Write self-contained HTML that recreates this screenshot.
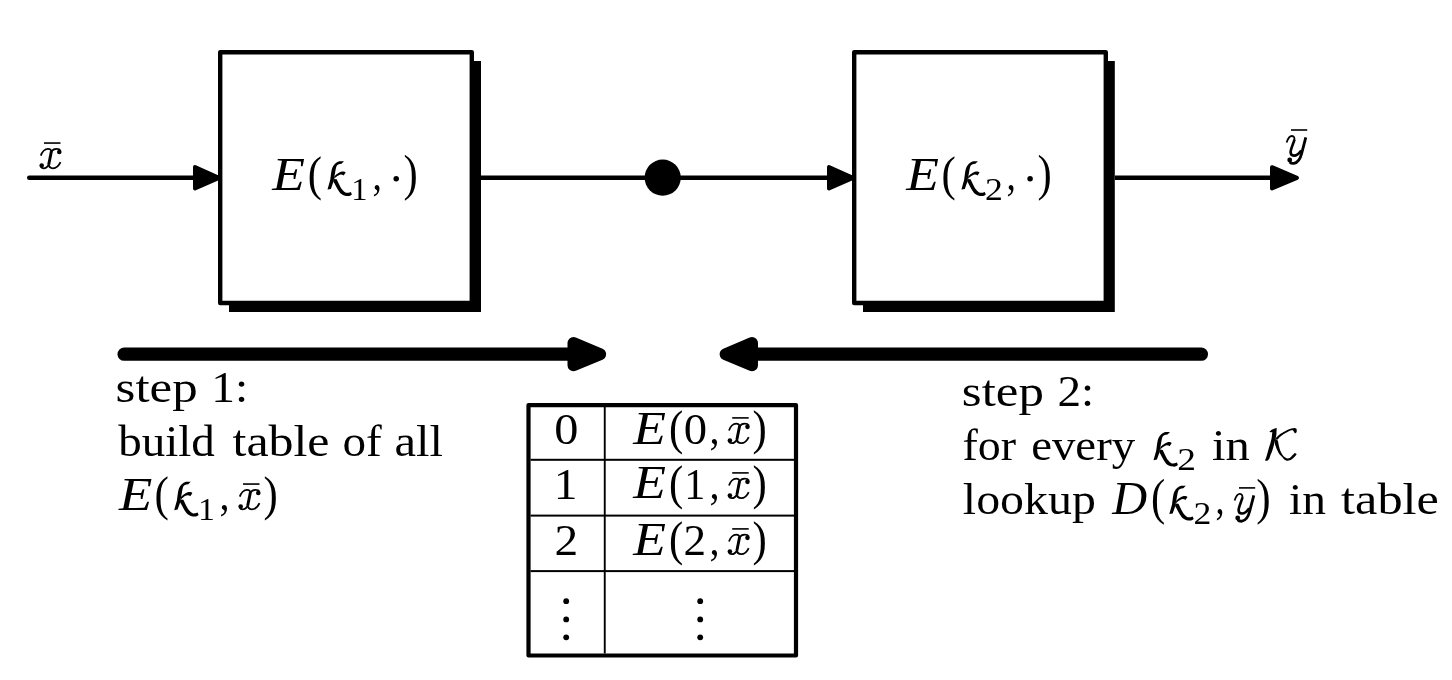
<!DOCTYPE html>
<html><head><meta charset="utf-8"><style>
html,body{margin:0;padding:0;background:#fff;width:1452px;height:680px;overflow:hidden}
svg{display:block;filter:grayscale(1)}
text{font-family:"Liberation Serif", serif;font-kerning:none;fill:#000}
</style></head><body>
<svg width="1452" height="680" viewBox="0 0 1452 680">
<rect width="1452" height="680" fill="#fff"/>
<rect x="220.20" y="52.20" width="251.60" height="250.80" fill="none" stroke="#000" stroke-width="4.4" stroke-linejoin="round"/>
<polygon points="472,61 481,61 481,312 229,312 229,303 472,303"/>
<rect x="854.20" y="52.20" width="251.60" height="250.80" fill="none" stroke="#000" stroke-width="4.4" stroke-linejoin="round"/>
<polygon points="1106,61 1114.8,61 1114.8,311.9 863,311.9 863,303 1106,303"/>
<line x1="29.20" y1="177.80" x2="210.00" y2="177.80" stroke="#000" stroke-width="4.4" stroke-linecap="round"/>
<line x1="481.00" y1="177.80" x2="845.00" y2="177.80" stroke="#000" stroke-width="4.4" stroke-linecap="round"/>
<line x1="1115.00" y1="177.80" x2="1290.00" y2="177.80" stroke="#000" stroke-width="4.4" stroke-linecap="butt"/>
<polygon points="195.00,167.00 195.00,188.40 219.00,177.80" fill="#000" stroke="#000" stroke-width="4" stroke-linejoin="round"/>
<polygon points="829.00,167.00 829.00,188.40 853.00,177.80" fill="#000" stroke="#000" stroke-width="4" stroke-linejoin="round"/>
<polygon points="1272.00,167.20 1272.00,188.40 1297.00,177.80" fill="#000" stroke="#000" stroke-width="4" stroke-linejoin="round"/>
<circle cx="662.70" cy="177.60" r="18.10"/>
<line x1="124.15" y1="354.20" x2="575.00" y2="354.20" stroke="#000" stroke-width="13.3" stroke-linecap="round"/>
<polygon points="573.50,343.00 573.50,365.30 600.20,354.20" fill="#000" stroke="#000" stroke-width="12" stroke-linejoin="round"/>
<line x1="752.00" y1="354.20" x2="1201.35" y2="354.20" stroke="#000" stroke-width="13.3" stroke-linecap="round"/>
<polygon points="752.00,343.00 752.00,365.30 725.60,354.20" fill="#000" stroke="#000" stroke-width="12" stroke-linejoin="round"/>
<rect x="528.5" y="405.1" width="267.5" height="250.4" fill="none" stroke="#000" stroke-width="4.2" stroke-linejoin="round"/>
<rect x="603.80" y="407.00" width="1.90" height="246.50"/>
<rect x="530.50" y="458.80" width="264.10" height="2.00"/>
<rect x="530.50" y="514.60" width="264.10" height="2.00"/>
<rect x="530.50" y="570.10" width="264.10" height="2.00"/>
<g transform="translate(36.00 138.00)"><rect x="8" y="4.25" width="16.5" height="1.6"/><g fill="none" stroke="#000"><path d="M4.8,17.6 C6,14 9,10.8 12,10.8 C14,10.8 15.6,12 15.3,14" stroke-width="1.8"/><path d="M15.4,13.2 L12.7,26.6" stroke-width="2.9"/><path d="M12.8,26.4 C11.6,29 9.6,30.3 7.5,30.3 C6.2,30.3 5.2,29.6 4.9,28.6" stroke-width="1.8"/><path d="M15.2,13.8 C16.5,11.6 18.5,10.8 20.5,10.8 C22.5,10.8 24,11.6 24.5,12.6" stroke-width="1.8"/><path d="M12.6,26.4 C13,29 14.8,30.3 17,30.3 C20,30.3 23,27.5 24.5,24.2" stroke-width="1.8"/></g><circle cx="5.7" cy="27.6" r="2.3"/><circle cx="23.3" cy="14" r="2.3"/></g>
<g transform="translate(1282.00 124.00)"><rect x="9" y="5.2" width="16.2" height="1.6"/><g fill="none" stroke="#000"><path d="M4.6,18.6 C6,14.2 8,12 9.9,12 C12,12 12.7,13.8 12.4,16" stroke-width="1.8"/><path d="M12.5,15.6 C11.2,20 8.6,25.5 8.6,28 C8.6,30.5 10,31.6 12,31.6 C14.6,31.6 17,29.6 19.2,26.4" stroke-width="2.6"/><path d="M23.8,13.4 L19.6,29.6 C18.6,33.6 16,38.6 12,39.3 C10,39.5 8.6,38.9 7.6,37.9" stroke-width="2.8"/></g><circle cx="7.7" cy="36" r="2.4"/></g>
<text transform="translate(272.23 189.70) scale(1.1909 1.0419)" font-size="45" style="font-style:italic;">E</text>
<text transform="translate(307.72 190.36) scale(0.9518 1.1004)" font-size="45" style="">(</text>
<g transform="translate(326.00 158.00)"><path d="M13.3,3.2 L18,3.2 L15.5,5.7 C13,5.8 11,6.8 10.4,8.4 C9.6,10.8 9,16 7.4,23.8 L4.9,30.9 L1.5,31.6 L4.2,22 C5,16 5.4,12 6.2,10 C7.5,6.5 10,4.3 13.3,3.2 Z"/><path d="M8,21 C9,20 10,19 10.7,18.6 C11.6,18 12.3,17.4 12.9,17.2 C13.6,16.8 14,16.6 14.6,16.6 L16.5,16.8 L17.6,17.6 L19.7,14.4 C19,13.7 18.3,13.4 17.5,13.4 C16.5,13.4 15.8,13.5 15,13.7 C14.2,14 13.5,14.3 12.9,14.7 C12,15.2 11.5,15.6 11,16 C10,16.8 9,17.6 8.5,18 Z"/><path d="M7.4,20.9 L10.7,21.2 C12.5,25 14.5,30 16.8,32.2 C18.5,34 19.8,34.8 20.7,34.8 C22,34.8 23.4,34.5 24.9,33.9 L25.9,36.4 C24.5,37.5 23.4,38 22.3,38 C20.5,38 19.5,38 18.1,37.4 C16,36.5 14.5,35.5 13.6,34.2 C12,32 10.8,30 9.7,27.7 C8.8,26 8,24.5 7.4,23.8 Z"/></g>
<text transform="translate(351.13 199.60) scale(1.0208 1.0000)" font-size="32" style="">1</text>
<text transform="translate(372.57 189.70) scale(0.8356 1.0000)" font-size="45" style="">,</text>
<circle cx="396.20" cy="178.70" r="2.75"/>
<text transform="translate(403.62 190.43) scale(0.9518 1.1029)" font-size="45" style="">)</text>
<text transform="translate(906.13 189.70) scale(1.1909 1.0419)" font-size="45" style="font-style:italic;">E</text>
<text transform="translate(941.62 190.36) scale(0.9518 1.1004)" font-size="45" style="">(</text>
<g transform="translate(959.90 158.00)"><path d="M13.3,3.2 L18,3.2 L15.5,5.7 C13,5.8 11,6.8 10.4,8.4 C9.6,10.8 9,16 7.4,23.8 L4.9,30.9 L1.5,31.6 L4.2,22 C5,16 5.4,12 6.2,10 C7.5,6.5 10,4.3 13.3,3.2 Z"/><path d="M8,21 C9,20 10,19 10.7,18.6 C11.6,18 12.3,17.4 12.9,17.2 C13.6,16.8 14,16.6 14.6,16.6 L16.5,16.8 L17.6,17.6 L19.7,14.4 C19,13.7 18.3,13.4 17.5,13.4 C16.5,13.4 15.8,13.5 15,13.7 C14.2,14 13.5,14.3 12.9,14.7 C12,15.2 11.5,15.6 11,16 C10,16.8 9,17.6 8.5,18 Z"/><path d="M7.4,20.9 L10.7,21.2 C12.5,25 14.5,30 16.8,32.2 C18.5,34 19.8,34.8 20.7,34.8 C22,34.8 23.4,34.5 24.9,33.9 L25.9,36.4 C24.5,37.5 23.4,38 22.3,38 C20.5,38 19.5,38 18.1,37.4 C16,36.5 14.5,35.5 13.6,34.2 C12,32 10.8,30 9.7,27.7 C8.8,26 8,24.5 7.4,23.8 Z"/></g>
<text transform="translate(984.93 199.60) scale(1.1147 1.0000)" font-size="32" style="">2</text>
<text transform="translate(1006.47 189.70) scale(0.8356 1.0000)" font-size="45" style="">,</text>
<circle cx="1030.10" cy="178.70" r="2.75"/>
<text transform="translate(1037.52 190.43) scale(0.9518 1.1029)" font-size="45" style="">)</text>
<text transform="translate(115.61 401.70) scale(1.1323 1.0000)" font-size="45" style="">step</text>
<text transform="translate(211.23 401.70) scale(1.0547 1.0000)" font-size="45" style="">1:</text>
<text transform="translate(118.20 456.20) scale(1.0440 1.0000)" font-size="45" style="">build</text>
<text transform="translate(232.51 456.20) scale(1.1094 1.0000)" font-size="45" style="">table</text>
<text transform="translate(342.40 456.20) scale(1.0483 1.0000)" font-size="45" style="">of</text>
<text transform="translate(394.49 456.20) scale(1.0778 1.0000)" font-size="45" style="">all</text>
<text transform="translate(119.04 509.70) scale(1.2129 1.0351)" font-size="45" style="font-style:italic;">E</text>
<text transform="translate(154.60 510.26) scale(0.9604 1.1004)" font-size="45" style="">(</text>
<g transform="translate(172.70 478.60)"><path d="M13.3,3.2 L18,3.2 L15.5,5.7 C13,5.8 11,6.8 10.4,8.4 C9.6,10.8 9,16 7.4,23.8 L4.9,30.9 L1.5,31.6 L4.2,22 C5,16 5.4,12 6.2,10 C7.5,6.5 10,4.3 13.3,3.2 Z"/><path d="M8,21 C9,20 10,19 10.7,18.6 C11.6,18 12.3,17.4 12.9,17.2 C13.6,16.8 14,16.6 14.6,16.6 L16.5,16.8 L17.6,17.6 L19.7,14.4 C19,13.7 18.3,13.4 17.5,13.4 C16.5,13.4 15.8,13.5 15,13.7 C14.2,14 13.5,14.3 12.9,14.7 C12,15.2 11.5,15.6 11,16 C10,16.8 9,17.6 8.5,18 Z"/><path d="M7.4,20.9 L10.7,21.2 C12.5,25 14.5,30 16.8,32.2 C18.5,34 19.8,34.8 20.7,34.8 C22,34.8 23.4,34.5 24.9,33.9 L25.9,36.4 C24.5,37.5 23.4,38 22.3,38 C20.5,38 19.5,38 18.1,37.4 C16,36.5 14.5,35.5 13.6,34.2 C12,32 10.8,30 9.7,27.7 C8.8,26 8,24.5 7.4,23.8 Z"/></g>
<text transform="translate(198.03 519.50) scale(1.0563 1.0000)" font-size="32" style="">1</text>
<text transform="translate(219.47 509.80) scale(0.8953 1.0000)" font-size="45" style="">,</text>
<g transform="translate(235.00 479.00)"><rect x="8" y="4.25" width="16.5" height="1.6"/><g fill="none" stroke="#000"><path d="M4.8,17.6 C6,14 9,10.8 12,10.8 C14,10.8 15.6,12 15.3,14" stroke-width="1.8"/><path d="M15.4,13.2 L12.7,26.6" stroke-width="2.9"/><path d="M12.8,26.4 C11.6,29 9.6,30.3 7.5,30.3 C6.2,30.3 5.2,29.6 4.9,28.6" stroke-width="1.8"/><path d="M15.2,13.8 C16.5,11.6 18.5,10.8 20.5,10.8 C22.5,10.8 24,11.6 24.5,12.6" stroke-width="1.8"/><path d="M12.6,26.4 C13,29 14.8,30.3 17,30.3 C20,30.3 23,27.5 24.5,24.2" stroke-width="1.8"/></g><circle cx="5.7" cy="27.6" r="2.3"/><circle cx="23.3" cy="14" r="2.3"/></g>
<text transform="translate(263.62 510.26) scale(0.9518 1.1004)" font-size="45" style="">)</text>
<text transform="translate(961.81 406.20) scale(1.1323 1.0000)" font-size="45" style="">step</text>
<text transform="translate(1057.43 406.20) scale(1.0484 1.0000)" font-size="45" style="">2:</text>
<text transform="translate(962.49 460.00) scale(1.0219 1.0000)" font-size="45" style="">for</text>
<text transform="translate(1031.17 460.00) scale(1.0408 1.0000)" font-size="45" style="">every</text>
<g transform="translate(1152.00 428.70)"><path d="M13.3,3.2 L18,3.2 L15.5,5.7 C13,5.8 11,6.8 10.4,8.4 C9.6,10.8 9,16 7.4,23.8 L4.9,30.9 L1.5,31.6 L4.2,22 C5,16 5.4,12 6.2,10 C7.5,6.5 10,4.3 13.3,3.2 Z"/><path d="M8,21 C9,20 10,19 10.7,18.6 C11.6,18 12.3,17.4 12.9,17.2 C13.6,16.8 14,16.6 14.6,16.6 L16.5,16.8 L17.6,17.6 L19.7,14.4 C19,13.7 18.3,13.4 17.5,13.4 C16.5,13.4 15.8,13.5 15,13.7 C14.2,14 13.5,14.3 12.9,14.7 C12,15.2 11.5,15.6 11,16 C10,16.8 9,17.6 8.5,18 Z"/><path d="M7.4,20.9 L10.7,21.2 C12.5,25 14.5,30 16.8,32.2 C18.5,34 19.8,34.8 20.7,34.8 C22,34.8 23.4,34.5 24.9,33.9 L25.9,36.4 C24.5,37.5 23.4,38 22.3,38 C20.5,38 19.5,38 18.1,37.4 C16,36.5 14.5,35.5 13.6,34.2 C12,32 10.8,30 9.7,27.7 C8.8,26 8,24.5 7.4,23.8 Z"/></g>
<text transform="translate(1177.36 469.60) scale(1.1693 1.0000)" font-size="32" style="">2</text>
<text transform="translate(1211.98 460.00) scale(1.0786 1.0000)" font-size="45" style="">in</text>
<g transform="translate(1262.00 426.00)"><path d="M7.35,5.7 C9,4.2 11.5,2.8 14.7,2.1 L14.4,8.8 C14,11 13.2,14 12.1,18 C11.5,21 9.8,27 8.8,28.3 C8.2,30 7.6,32 7.4,32.4 C6.5,34 5.5,34.8 4.7,34.8 L2.9,34.5 C4.5,31 5,28.5 5.9,25.4 C7,21.5 7.8,19 8.2,18 C9,15 9.4,13.5 9.7,11.8 C10,9 10.2,7 10.3,5.9 C9.5,6 8.9,6.2 8.5,6.3 Z"/><path d="M13.2,12.6 C15,10.5 17,9 17.6,8.5 C20,6.8 23.5,5 23.5,5 C26,3.8 28.5,2.8 29.4,2.6 C30.5,2.3 31.5,2.1 32.4,2.1 C33.8,2.3 34.7,3 34.7,3.5 L34.7,5.9 C34.2,6.8 33.5,7.2 32.9,7.2 C32.3,6.6 32,6 31.8,5.6 C31.2,4.8 30.8,4.3 30.3,4.1 C28,4.8 25.5,6 23.5,7.1 C20.5,8.8 18,10.8 16.5,12.4 L15.3,13.8 Z"/><path d="M13.5,12.4 L15.9,14.7 C16.2,16 16.4,17 16.5,18 C17.2,21.5 18,24.5 19.1,26.5 C20.3,28.8 21.5,30.5 22.9,31.2 C24,32 25,32.4 25.9,32.4 C27.2,32.3 28.4,31.5 29.4,30.4 C30.8,29 32,27.8 32.9,27.1 L34.7,28 C34,29.2 33.2,30.2 32.4,30.9 C31,32.3 29.5,33.6 27.9,34.2 C26.5,34.7 25.2,34.8 24.1,34.5 C22.8,34.2 21.6,33 20.6,31.5 C18.5,29.5 17.5,28.5 16.5,26.8 C15,24 13.8,21 12.9,18 C12.7,16 13,14 13.5,12.4 Z"/></g>
<text transform="translate(962.84 514.00) scale(1.0642 1.0000)" font-size="45" style="">lookup</text>
<text transform="translate(1112.34 513.51) scale(1.0736 1.0320)" font-size="45" style="font-style:italic;">D</text>
<text transform="translate(1151.12 514.39) scale(0.9518 1.1078)" font-size="45" style="">(</text>
<g transform="translate(1167.80 482.50)"><path d="M13.3,3.2 L18,3.2 L15.5,5.7 C13,5.8 11,6.8 10.4,8.4 C9.6,10.8 9,16 7.4,23.8 L4.9,30.9 L1.5,31.6 L4.2,22 C5,16 5.4,12 6.2,10 C7.5,6.5 10,4.3 13.3,3.2 Z"/><path d="M8,21 C9,20 10,19 10.7,18.6 C11.6,18 12.3,17.4 12.9,17.2 C13.6,16.8 14,16.6 14.6,16.6 L16.5,16.8 L17.6,17.6 L19.7,14.4 C19,13.7 18.3,13.4 17.5,13.4 C16.5,13.4 15.8,13.5 15,13.7 C14.2,14 13.5,14.3 12.9,14.7 C12,15.2 11.5,15.6 11,16 C10,16.8 9,17.6 8.5,18 Z"/><path d="M7.4,20.9 L10.7,21.2 C12.5,25 14.5,30 16.8,32.2 C18.5,34 19.8,34.8 20.7,34.8 C22,34.8 23.4,34.5 24.9,33.9 L25.9,36.4 C24.5,37.5 23.4,38 22.3,38 C20.5,38 19.5,38 18.1,37.4 C16,36.5 14.5,35.5 13.6,34.2 C12,32 10.8,30 9.7,27.7 C8.8,26 8,24.5 7.4,23.8 Z"/></g>
<text transform="translate(1193.43 523.70) scale(1.1147 1.0000)" font-size="32" style="">2</text>
<text transform="translate(1215.62 514.00) scale(0.8058 1.0000)" font-size="45" style="">,</text>
<g transform="translate(1230.00 481.90)"><rect x="9" y="5.2" width="16.2" height="1.6"/><g fill="none" stroke="#000"><path d="M4.6,18.6 C6,14.2 8,12 9.9,12 C12,12 12.7,13.8 12.4,16" stroke-width="1.8"/><path d="M12.5,15.6 C11.2,20 8.6,25.5 8.6,28 C8.6,30.5 10,31.6 12,31.6 C14.6,31.6 17,29.6 19.2,26.4" stroke-width="2.6"/><path d="M23.8,13.4 L19.6,29.6 C18.6,33.6 16,38.6 12,39.3 C10,39.5 8.6,38.9 7.6,37.9" stroke-width="2.8"/></g><circle cx="7.7" cy="36" r="2.4"/></g>
<text transform="translate(1256.31 514.39) scale(0.9604 1.1078)" font-size="45" style="">)</text>
<text transform="translate(1289.00 514.00) scale(1.0546 1.0000)" font-size="45" style="">in</text>
<text transform="translate(1341.11 514.00) scale(1.1176 1.0000)" font-size="45" style="">table</text>
<text transform="translate(554.16 444.20) scale(1.0749 1.0000)" font-size="45" style="">0</text>
<text transform="translate(633.33 444.00) scale(1.1909 1.0317)" font-size="45" style="font-style:italic;">E</text>
<text transform="translate(669.12 444.33) scale(0.9518 1.0931)" font-size="45" style="">(</text>
<text transform="translate(683.82 444.20) scale(1.0382 1.0000)" font-size="45" style="">0</text>
<text transform="translate(709.47 444.20) scale(0.8953 1.0000)" font-size="45" style="">,</text>
<g transform="translate(724.20 412.85)"><rect x="8" y="4.25" width="16.5" height="1.6"/><g fill="none" stroke="#000"><path d="M4.8,17.6 C6,14 9,10.8 12,10.8 C14,10.8 15.6,12 15.3,14" stroke-width="1.8"/><path d="M15.4,13.2 L12.7,26.6" stroke-width="2.9"/><path d="M12.8,26.4 C11.6,29 9.6,30.3 7.5,30.3 C6.2,30.3 5.2,29.6 4.9,28.6" stroke-width="1.8"/><path d="M15.2,13.8 C16.5,11.6 18.5,10.8 20.5,10.8 C22.5,10.8 24,11.6 24.5,12.6" stroke-width="1.8"/><path d="M12.6,26.4 C13,29 14.8,30.3 17,30.3 C20,30.3 23,27.5 24.5,24.2" stroke-width="1.8"/></g><circle cx="5.7" cy="27.6" r="2.3"/><circle cx="23.3" cy="14" r="2.3"/></g>
<text transform="translate(752.62 444.33) scale(0.9518 1.0931)" font-size="45" style="">)</text>
<text transform="translate(553.83 498.60) scale(1.0541 1.0000)" font-size="45" style="">1</text>
<text transform="translate(633.33 498.40) scale(1.1909 1.0317)" font-size="45" style="font-style:italic;">E</text>
<text transform="translate(669.12 498.73) scale(0.9518 1.0931)" font-size="45" style="">(</text>
<text transform="translate(684.31 498.60) scale(0.9342 1.0000)" font-size="45" style="">1</text>
<text transform="translate(709.47 498.60) scale(0.8953 1.0000)" font-size="45" style="">,</text>
<g transform="translate(724.20 467.85)"><rect x="8" y="4.25" width="16.5" height="1.6"/><g fill="none" stroke="#000"><path d="M4.8,17.6 C6,14 9,10.8 12,10.8 C14,10.8 15.6,12 15.3,14" stroke-width="1.8"/><path d="M15.4,13.2 L12.7,26.6" stroke-width="2.9"/><path d="M12.8,26.4 C11.6,29 9.6,30.3 7.5,30.3 C6.2,30.3 5.2,29.6 4.9,28.6" stroke-width="1.8"/><path d="M15.2,13.8 C16.5,11.6 18.5,10.8 20.5,10.8 C22.5,10.8 24,11.6 24.5,12.6" stroke-width="1.8"/><path d="M12.6,26.4 C13,29 14.8,30.3 17,30.3 C20,30.3 23,27.5 24.5,24.2" stroke-width="1.8"/></g><circle cx="5.7" cy="27.6" r="2.3"/><circle cx="23.3" cy="14" r="2.3"/></g>
<text transform="translate(752.62 498.73) scale(0.9518 1.0931)" font-size="45" style="">)</text>
<text transform="translate(554.42 555.10) scale(1.0532 1.0000)" font-size="45" style="">2</text>
<text transform="translate(633.33 554.90) scale(1.1909 1.0317)" font-size="45" style="font-style:italic;">E</text>
<text transform="translate(669.12 555.23) scale(0.9518 1.0931)" font-size="45" style="">(</text>
<text transform="translate(683.52 555.10) scale(1.0034 1.0000)" font-size="45" style="">2</text>
<text transform="translate(709.47 555.10) scale(0.8953 1.0000)" font-size="45" style="">,</text>
<g transform="translate(724.20 523.85)"><rect x="8" y="4.25" width="16.5" height="1.6"/><g fill="none" stroke="#000"><path d="M4.8,17.6 C6,14 9,10.8 12,10.8 C14,10.8 15.6,12 15.3,14" stroke-width="1.8"/><path d="M15.4,13.2 L12.7,26.6" stroke-width="2.9"/><path d="M12.8,26.4 C11.6,29 9.6,30.3 7.5,30.3 C6.2,30.3 5.2,29.6 4.9,28.6" stroke-width="1.8"/><path d="M15.2,13.8 C16.5,11.6 18.5,10.8 20.5,10.8 C22.5,10.8 24,11.6 24.5,12.6" stroke-width="1.8"/><path d="M12.6,26.4 C13,29 14.8,30.3 17,30.3 C20,30.3 23,27.5 24.5,24.2" stroke-width="1.8"/></g><circle cx="5.7" cy="27.6" r="2.3"/><circle cx="23.3" cy="14" r="2.3"/></g>
<text transform="translate(752.62 555.23) scale(0.9518 1.0931)" font-size="45" style="">)</text>
<circle cx="566.20" cy="601.20" r="2.90"/>
<circle cx="700.20" cy="601.20" r="2.90"/>
<circle cx="566.20" cy="619.40" r="2.90"/>
<circle cx="700.20" cy="619.40" r="2.90"/>
<circle cx="566.20" cy="637.30" r="2.90"/>
<circle cx="700.20" cy="637.30" r="2.90"/>
</svg>
</body></html>
